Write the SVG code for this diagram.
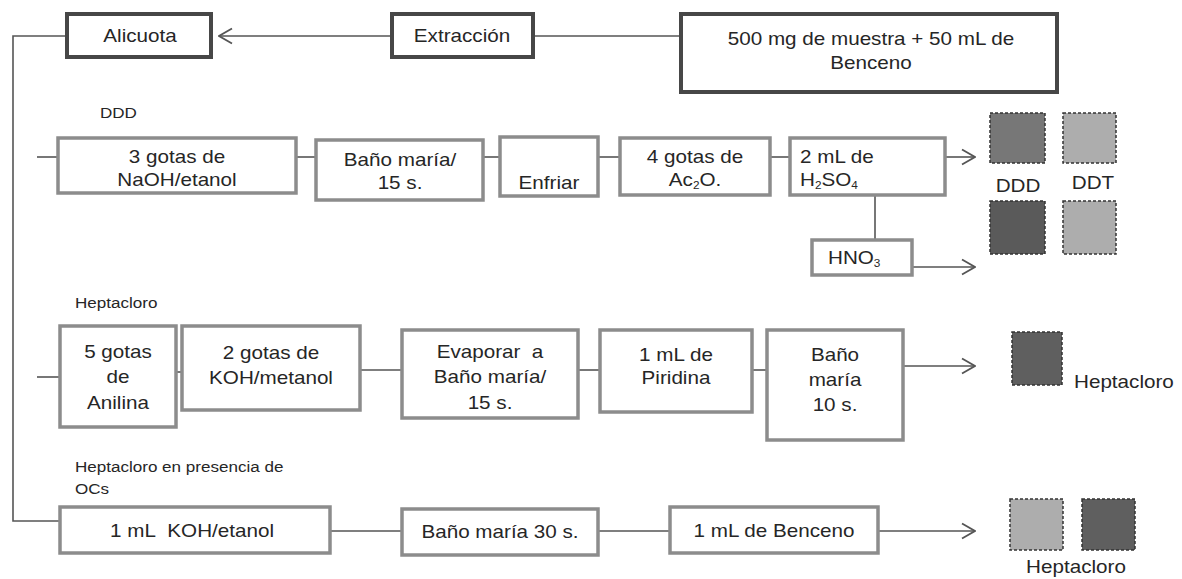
<svg xmlns="http://www.w3.org/2000/svg" width="1182" height="579" viewBox="0 0 1182 579">
<defs>
<style>
text{font-family:"Liberation Sans",Arial,sans-serif;font-size:17.5px;fill:#262626;}
.c{text-anchor:middle;}
.lbl{font-size:15.5px;}
.top{fill:#fff;stroke:#474747;stroke-width:4;}
.box{fill:#fff;stroke:#8c8c8c;stroke-width:3.5;}
.ln{stroke:#555;stroke-width:1.6;fill:none;}
.sq{stroke:#333;stroke-width:1.5;stroke-dasharray:3 2;}
.sub{font-size:10px;}
</style>
<marker id="ah" markerWidth="16" markerHeight="18" refX="15" refY="9" orient="auto" markerUnits="userSpaceOnUse">
<path d="M2,1.5 L15,9 L2,16.5" fill="none" stroke="#555" stroke-width="1.8"/>
</marker>
</defs>
<rect width="1182" height="579" fill="#fff"/>

<g id="connectors">
<line class="ln" x1="392" y1="36" x2="219" y2="36" marker-end="url(#ah)" stroke="#333"/>
<line class="ln" x1="533" y1="36" x2="681" y2="36" stroke="#333"/>
<polyline class="ln" points="67,36 13,36 13,521 60,521" stroke="#666"/>
<line class="ln" x1="37" y1="157" x2="58" y2="157" stroke="#888"/>
<line class="ln" x1="296" y1="157" x2="316" y2="157" stroke="#888"/>
<line class="ln" x1="483" y1="157" x2="500" y2="157" stroke="#888"/>
<line class="ln" x1="598" y1="157" x2="620" y2="157" stroke="#888"/>
<line class="ln" x1="770" y1="157" x2="790" y2="157" stroke="#888"/>
<line class="ln" x1="945" y1="157" x2="975" y2="157" marker-end="url(#ah)"/>
<line class="ln" x1="875" y1="195" x2="875" y2="240" stroke="#777"/>
<line class="ln" x1="912" y1="267" x2="975" y2="267" marker-end="url(#ah)"/>
<line class="ln" x1="37" y1="377" x2="60" y2="377"/>
<line class="ln" x1="176" y1="372" x2="182" y2="372" stroke="#888"/>
<line class="ln" x1="360" y1="370" x2="402" y2="370"/>
<line class="ln" x1="578" y1="370" x2="600" y2="370" stroke="#777"/>
<line class="ln" x1="752" y1="370" x2="767" y2="370" stroke="#777"/>
<line class="ln" x1="903" y1="366" x2="975" y2="366" marker-end="url(#ah)"/>
<line class="ln" x1="330" y1="531" x2="402" y2="531"/>
<line class="ln" x1="598" y1="531" x2="670" y2="531"/>
<line class="ln" x1="878" y1="531" x2="975" y2="531" marker-end="url(#ah)"/>
</g>

<g id="alicuota"><rect class="top" x="67" y="14" width="144" height="43"/><text class="c" transform="translate(140,42) scale(1.18,1)">Alicuota</text></g>
<g id="extraccion"><rect class="top" x="392" y="14" width="141" height="43"/><text class="c" transform="translate(462,42) scale(1.18,1)">Extracción</text></g>
<g id="muestra"><rect class="top" x="681" y="14" width="376" height="78"/><text class="c" transform="translate(871,45) scale(1.18,1)">500 mg de muestra + 50 mL de</text><text class="c" transform="translate(871,69) scale(1.18,1)">Benceno</text></g>

<g id="lbl-ddd"><text class="lbl" transform="translate(100,118) scale(1.1,1)">DDD</text></g>
<g id="naoh"><rect class="box" x="58" y="138" width="238" height="55"/><text class="c" transform="translate(177,163) scale(1.18,1)">3 gotas de</text><text class="c" transform="translate(177,186) scale(1.18,1)">NaOH/etanol</text></g>
<g id="bano15"><rect class="box" x="316" y="140" width="167" height="60"/><text class="c" transform="translate(400,166) scale(1.18,1)">Baño maría/</text><text class="c" transform="translate(400,189) scale(1.18,1)">15 s.</text></g>
<g id="enfriar"><rect class="box" x="500" y="137" width="98" height="59"/><text class="c" transform="translate(549,189) scale(1.18,1)">Enfriar</text></g>
<g id="ac2o"><rect class="box" x="620" y="138" width="150" height="57"/><text class="c" transform="translate(695,163) scale(1.18,1)">4 gotas de</text><text class="c" transform="translate(695,186) scale(1.18,1)">Ac<tspan class="sub" dy="3">2</tspan><tspan dy="-3">O.</tspan></text></g>
<g id="h2so4"><rect class="box" x="790" y="138" width="155" height="57"/><text transform="translate(800,163) scale(1.18,1)">2 mL de</text><text transform="translate(800,186) scale(1.18,1)">H<tspan class="sub" dy="3">2</tspan><tspan dy="-3">SO</tspan><tspan class="sub" dy="3">4</tspan></text></g>
<g id="hno3"><rect class="box" x="812" y="240" width="100" height="35"/><text transform="translate(828,264) scale(1.18,1)">HNO<tspan class="sub" dy="3">3</tspan></text></g>
<g id="res-ddd">
<rect class="sq" x="990" y="113" width="55" height="50" fill="#777"/>
<rect class="sq" x="1063" y="113" width="53" height="50" fill="#adadad"/>
<text class="c" transform="translate(1018,192) scale(1.18,1)">DDD</text><text class="c" transform="translate(1093,189) scale(1.18,1)">DDT</text>
<rect class="sq" x="990" y="201" width="55" height="53" fill="#5a5a5a"/>
<rect class="sq" x="1063" y="201" width="53" height="53" fill="#adadad"/>
</g>

<g id="lbl-hepta"><text class="lbl" transform="translate(75,308) scale(1.1,1)">Heptacloro</text></g>
<g id="anilina"><rect class="box" x="60" y="326" width="116" height="101"/><text class="c" transform="translate(118,358) scale(1.18,1)">5 gotas</text><text class="c" transform="translate(118,383) scale(1.18,1)">de</text><text class="c" transform="translate(118,409) scale(1.18,1)">Anilina</text></g>
<g id="kohmet"><rect class="box" x="182" y="326" width="178" height="84"/><text class="c" transform="translate(271,359) scale(1.18,1)">2 gotas de</text><text class="c" transform="translate(271,384) scale(1.18,1)">KOH/metanol</text></g>
<g id="evaporar"><rect class="box" x="402" y="330" width="176" height="88"/><text class="c" transform="translate(490,358) scale(1.18,1)">Evaporar&#160; a</text><text class="c" transform="translate(490,383) scale(1.18,1)">Baño maría/</text><text class="c" transform="translate(490,409) scale(1.18,1)">15 s.</text></g>
<g id="piridina"><rect class="box" x="600" y="330" width="152" height="82"/><text class="c" transform="translate(676,361) scale(1.18,1)">1 mL de</text><text class="c" transform="translate(676,384) scale(1.18,1)">Piridina</text></g>
<g id="bano10"><rect class="box" x="767" y="330" width="136" height="110"/><text class="c" transform="translate(835,361) scale(1.18,1)">Baño</text><text class="c" transform="translate(835,386) scale(1.18,1)">maría</text><text class="c" transform="translate(835,411) scale(1.18,1)">10 s.</text></g>
<g id="res-hepta"><rect class="sq" x="1012" y="332" width="50" height="53" fill="#5f5f5f"/><text transform="translate(1074,388) scale(1.18,1)">Heptacloro</text></g>

<g id="lbl-ocs"><text class="lbl" transform="translate(75,472) scale(1.1,1)">Heptacloro en presencia de</text><text class="lbl" transform="translate(75,494) scale(1.1,1)">OCs</text></g>
<g id="kohet"><rect class="box" x="60" y="507" width="270" height="46"/><text class="c" transform="translate(192,537) scale(1.18,1)">1 mL&#160; KOH/etanol</text></g>
<g id="bano30"><rect class="box" x="402" y="509" width="196" height="46"/><text class="c" transform="translate(500,538) scale(1.18,1)">Baño maría 30 s.</text></g>
<g id="benceno"><rect class="box" x="670" y="507" width="208" height="46"/><text class="c" transform="translate(774,537) scale(1.18,1)">1 mL de Benceno</text></g>
<g id="res-ocs"><rect class="sq" x="1010" y="499" width="53" height="51" fill="#adadad"/><rect class="sq" x="1082" y="499" width="53" height="51" fill="#5f5f5f"/><text class="c" transform="translate(1076,573) scale(1.18,1)">Heptacloro</text></g>
</svg>
